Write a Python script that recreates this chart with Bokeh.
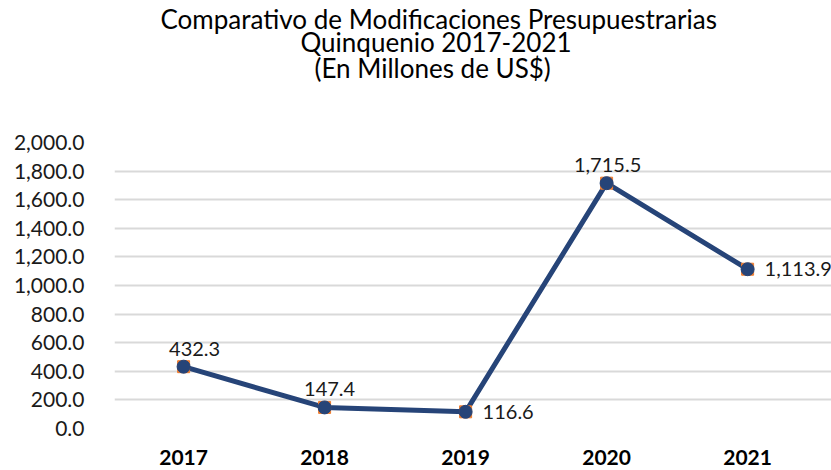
from bokeh.plotting import figure
from bokeh.models import (ColumnDataSource, Range1d, FixedTicker,
                          NumeralTickFormatter, LabelSet, Title)
from bokeh.core.properties import value
from bokeh.embed import file_html
from bokeh.resources import INLINE

years = ["2017", "2018", "2019", "2020", "2021"]
values = [432.3, 147.4, 116.6, 1715.5, 1113.9]
value_labels = ["432.3", "147.4", "116.6", "1,715.5", "1,113.9"]
y_ticks = [0, 200, 400, 600, 800, 1000, 1200, 1400, 1600, 1800, 2000]
title_lines = ["Comparativo de Modificaciones Presupuestrarias",
               "Quinquenio 2017-2021",
               "(En Millones de US$)"]

# label placement (style): above or right of the point
placement = ["above", "above", "right", "above", "right"]
dx = {"above": 0, "right": 17}
extra_dx = [11, 5, 0, 1, 0]

FONT = "Lato"
LINE = "#264478"

xi = list(range(len(years)))

p = figure(width=831, height=468, x_range=Range1d(-0.49, 4.595),
           y_range=Range1d(0, 2000), output_backend="svg", toolbar_location=None,
           min_border_left=114, min_border_right=0, min_border_top=142,
           min_border_bottom=40)
p.outline_line_color = None

# titles: first added sits closest to the plot, p.title is outermost
def style_title(t, offset, standoff):
    t.align = "left"
    t.text_font = FONT
    t.text_font_size = "26px"
    t.text_font_style = "normal"
    t.text_color = "#000000"
    t.offset = offset
    t.standoff = standoff

p.title.text = title_lines[0]
style_title(p.title, 46, -14)
spacer = Title(text=" ")
style_title(spacer, 0, 29)
p.add_layout(spacer, "above")
for line, off, so in [(title_lines[2], 200, -8), (title_lines[1], 186, -8)]:
    t = Title(text=line)
    style_title(t, off, so)
    p.add_layout(t, "above")

src = ColumnDataSource(dict(
    x=xi, y=values, lab=value_labels,
    xo=[dx[pl] + e for pl, e in zip(placement, extra_dx)],
    yo=[11 if pl == "above" else 0 for pl in placement],
    al=["center" if pl == "above" else "left" for pl in placement],
    bl=["bottom" if pl == "above" else "middle" for pl in placement],
))

p.line("x", "y", source=src, line_color=LINE, line_width=5)
p.scatter("x", "y", source=src, marker="square", size=12, fill_color="#ED7D31",
          line_color="#ED7D31")
p.scatter("x", "y", source=src, marker="circle", size=13, fill_color=LINE,
          line_color=LINE)

labels = LabelSet(x="x", y="y", text="lab", source=src, x_offset="xo",
                  y_offset="yo", text_align="al", text_baseline="bl",
                  text_font=value(FONT), text_font_size=value("20px"),
                  text_color="#1a1a1a")
p.add_layout(labels)

# axes
p.yaxis.ticker = FixedTicker(ticks=y_ticks)
p.yaxis.formatter = NumeralTickFormatter(format="0,0.0")
p.yaxis.axis_line_color = None
p.yaxis.major_tick_line_color = None
p.yaxis.minor_tick_line_color = None
p.yaxis.major_label_text_font = FONT
p.yaxis.major_label_text_font_size = "21px"
p.yaxis.major_label_text_color = "#1a1a1a"
p.yaxis.major_label_standoff = 24

p.xaxis.ticker = FixedTicker(ticks=xi)
p.xaxis.major_label_overrides = {i: y for i, y in zip(xi, years)}
p.xaxis.axis_line_color = None
p.xaxis.major_tick_line_color = None
p.xaxis.minor_tick_line_color = None
p.xaxis.major_label_text_font = FONT
p.xaxis.major_label_text_font_size = "21px"
p.xaxis.major_label_text_font_style = "bold"
p.xaxis.major_label_text_color = "#000000"
p.xaxis.major_label_standoff = 15

p.xgrid.grid_line_color = None
p.ygrid.grid_line_color = "#d9d9d9"
p.ygrid.grid_line_width = 2

open("out.html", "w").write(file_html(p, INLINE))
